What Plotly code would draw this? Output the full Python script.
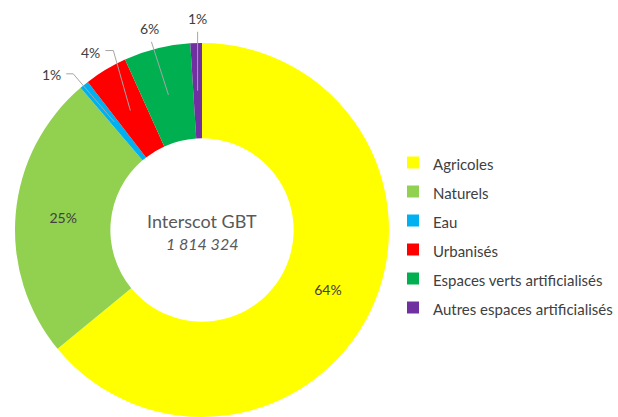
import math
import plotly.graph_objects as go

categories = ["Agricoles", "Naturels", "Eau", "Urbanisés",
              "Espaces verts artificialisés", "Autres espaces artificialisés"]
values = [1162074, 448138, 14515, 67130, 104324, 18143]
colors = ["#FFFF00", "#92D050", "#00B0F0", "#FF0000", "#00B050", "#7030A0"]
center_title = "Interscot GBT"
center_total = "1 814 324"
# label display: inside for big slices, leader-line annotation for small ones
label_mode = ["inside", "inside", "leader", "leader", "leader", "leader"]
# leader layout (pixels): text offset from slice anchor, leader start / elbow offsets from text
leader_text_offset = {2: (-63, -47), 3: (-40, -58), 4: (-19, -66), 5: (0, -72)}
leader_start = {2: [(15, -1), (22, -1)], 3: [(15, -2), (23, -2)], 4: [(2, 13)], 5: [(0, 13)]}

W, H = 618, 417
cx, cy, R = 202, 230, 187
hole = 0.49
FONT = "Lato"
GREY = "#404040"
LINE = "#A6A6A6"

total = sum(values)

fig = go.Figure()
fig.add_trace(go.Pie(
    labels=[f"<span style='font-size:15px'>{c}</span>" for c in categories],
    values=values,
    marker=dict(colors=colors, line=dict(width=0)),
    hole=hole,
    sort=False,
    direction="clockwise",
    rotation=0,
    texttemplate="%{percent:.0%}",
    textposition=["inside" if m == "inside" else "none" for m in label_mode],
    insidetextorientation="horizontal",
    textfont=dict(family=FONT, size=14, color=GREY),
    domain=dict(x=[(cx - R) / W, (cx + R) / W], y=[1 - (cy + R) / H, 1 - (cy - R) / H]),
    hoverinfo="label+value+percent",
))


def to_paper(px, py):
    return px / W, 1 - py / H


annotations = []
shapes = []
# leader-line labels computed from slice mid-angles
cum = 0.0
r_mid = R * (1 + hole) / 2
for i, v in enumerate(values):
    frac = v / total
    mid = (cum + frac / 2) * 2 * math.pi
    cum += frac
    if label_mode[i] != "leader":
        continue
    px = cx + r_mid * math.sin(mid)
    py = cy - r_mid * math.cos(mid)
    tx, ty = px + leader_text_offset[i][0], py + leader_text_offset[i][1]
    x, y = to_paper(tx, ty)
    annotations.append(dict(
        x=x, y=y, xref="paper", yref="paper", xanchor="center", yanchor="middle",
        text=f"{round(frac * 100)}%", showarrow=False,
        font=dict(family=FONT, size=14, color=GREY),
    ))
    pts = [(tx + dx, ty + dy) for dx, dy in leader_start[i]] + [(px, py)]
    path = ""
    for k, (qx, qy) in enumerate(pts):
        a, b = to_paper(qx, qy)
        path += ("M" if k == 0 else " L") + f"{a:.5f},{b:.5f}"
    shapes.append(dict(type="path", xref="paper", yref="paper", path=path,
                       line=dict(color=LINE, width=1)))

annotations.append(dict(
    x=cx / W, y=1 - (cy - 9) / H, xref="paper", yref="paper",
    xanchor="center", yanchor="middle",
    text=center_title, showarrow=False,
    font=dict(family=FONT, size=18, color="#595959"),
))
annotations.append(dict(
    x=cx / W, y=1 - (cy + 13) / H, xref="paper", yref="paper",
    xanchor="center", yanchor="middle",
    text=f"<i>{center_total}</i>", showarrow=False,
    font=dict(family=FONT, size=16, color="#595959"),
))

fig.update_layout(
    width=W, height=H,
    margin=dict(l=0, r=0, t=0, b=0),
    paper_bgcolor="white", plot_bgcolor="white",
    showlegend=True,
    legend=dict(
        x=393 / W, y=1 - 143 / H, xanchor="left", yanchor="top",
        font=dict(family=FONT, size=20, color=GREY),
        bgcolor="rgba(0,0,0,0)",
    ),
    annotations=annotations,
    shapes=shapes,
)

fig.write_html("out.html", config={"displayModeBar": False},
               post_script="document.body.style.margin='0';")
